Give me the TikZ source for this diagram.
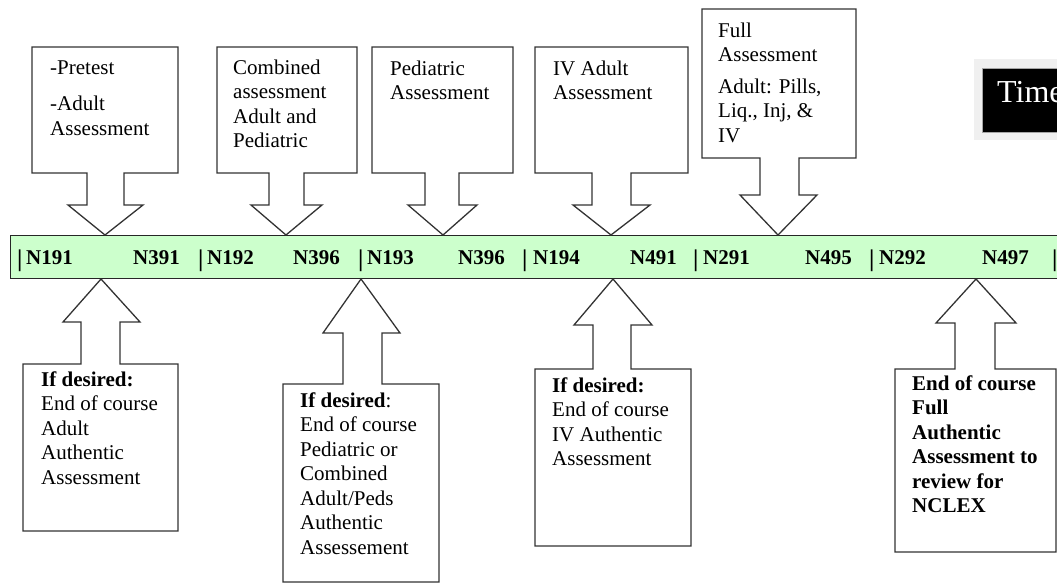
\documentclass[tikz,border=0pt]{standalone}
\usepackage{fontspec}
\setmainfont{Liberation Serif}
\usetikzlibrary{positioning}
\definecolor{barfill}{HTML}{CCFFCC}

\begin{document}
\begin{tikzpicture}[x=1pt,y=-1pt,
    every node/.style={font=\fontsize{21}{24.5}\selectfont,inner sep=0pt},
    callout/.style={draw=black!80,line width=1.3pt,fill=white,line join=miter},
    boxtext/.style={anchor=north west,align=left},
    code/.style={anchor=base west,font=\fontsize{21}{24.5}\selectfont\bfseries}]
  \useasboundingbox (0,0) rectangle (1057,584);
  \clip (0,0) rectangle (1057,584);

  % title (cut at the right edge)
  \node[fill=gray!12,anchor=north west,minimum width=100pt,minimum height=81pt] (shade) at (974,59) {};
  \node[fill=black,draw=gray!70,anchor=north west,minimum width=100pt,minimum height=64pt] (titlebox) at (982,68) {};
  \node[anchor=base west,text=white,font=\fontsize{32}{36}\selectfont] (title) at (997,102) {Time};

  % time line
  \node[draw=black!85,line width=1.3pt,fill=barfill,anchor=north west,minimum width=1060pt,minimum height=43pt] (bar) at (10,235) {};
  \foreach \x/\t [count=\i] in {26/N191,133/N391,207/N192,293/N396,367/N193,458/N396,
      533/N194,630/N491,703/N291,805/N495,879/N292,982/N497}
    \node[code] (lbl\i) at (\x,264) {\t};
  \foreach \x [count=\i] in {17,198,358,522,693,869,1052}
    \node[code,font=\fontsize{24}{26}\selectfont\bfseries] (sep\i) at (\x,266) {|};

  % callouts above the line
  \draw[callout] (32,47) -- (178,47) -- (178,173) -- (124,173) -- (124,205) -- (143,205) -- (105,235) -- (68,205) -- (87,205) -- (87,173) -- (32,173) -- cycle;
  \draw[callout] (217,47) -- (357,47) -- (357,173) -- (304,173) -- (304,205) -- (322,205) -- (286,235) -- (251,205) -- (269,205) -- (269,173) -- (217,173) -- cycle;
  \draw[callout] (372,47) -- (513,47) -- (513,173) -- (459,173) -- (459,205) -- (477,205) -- (443,235) -- (408,205) -- (425,205) -- (425,173) -- (372,173) -- cycle;
  \draw[callout] (535,47) -- (688,47) -- (688,173) -- (631,173) -- (631,205) -- (650,205) -- (611,235) -- (573,205) -- (592,205) -- (592,173) -- (535,173) -- cycle;
  \draw[callout] (702,9) -- (856,9) -- (856,158) -- (799,158) -- (799,195) -- (817,195) -- (778,235) -- (740,195) -- (760,195) -- (760,158) -- (702,158) -- cycle;

  \node[boxtext] (pretest) at (50,60.5) {-Pretest\\[12pt]-Adult\\Assessment};
  \node[boxtext] (combined) at (233,59.5) {Combined\\assessment\\Adult and\\Pediatric};
  \node[boxtext] (pediatric) at (390,60.5) {Pediatric\\Assessment};
  \node[boxtext] (ivadult) at (553,60.5) {IV Adult\\Assessment};
  \node[boxtext] (full) at (718,22.5) {Full\\Assessment\\[7pt]Adult: Pills,\\Liq., Inj, \&\\IV};

  % callouts below the line
  \draw[callout] (23,531) -- (23,364) -- (81,364) -- (81,322) -- (63,322) -- (101,279) -- (140,322) -- (120,322) -- (120,364) -- (178,364) -- (178,531) -- cycle;
  \draw[callout] (283,582) -- (283,384) -- (343,384) -- (343,333) -- (323,333) -- (361,279) -- (400,333) -- (382,333) -- (382,384) -- (439,384) -- (439,582) -- cycle;
  \draw[callout] (535,546) -- (535,369) -- (593,369) -- (593,325) -- (574,325) -- (613,279) -- (652,325) -- (631,325) -- (631,369) -- (691,369) -- (691,546) -- cycle;
  \draw[callout] (895,552) -- (895,369) -- (955,369) -- (955,323) -- (936,323) -- (976,279) -- (1016,323) -- (995,323) -- (995,369) -- (1056,369) -- (1056,552) -- cycle;

  \node[boxtext] (endadult) at (41,371.5) {\textbf{If desired:}\\End of course\\Adult\\Authentic\\Assessment};
  \node[boxtext] (endpeds) at (300,392.5) {\textbf{If desired}:\\End of course\\Pediatric or\\Combined\\Adult/Peds\\Authentic\\Assessement};
  \node[boxtext] (endiv) at (552,377.5) {\textbf{If desired:}\\End of course\\IV Authentic\\Assessment};
  \node[boxtext,font=\fontsize{21}{24.5}\selectfont\bfseries] (endfull) at (912,375.5) {End of course\\Full\\Authentic\\Assessment to\\review for\\NCLEX};
\end{tikzpicture}
\end{document}
